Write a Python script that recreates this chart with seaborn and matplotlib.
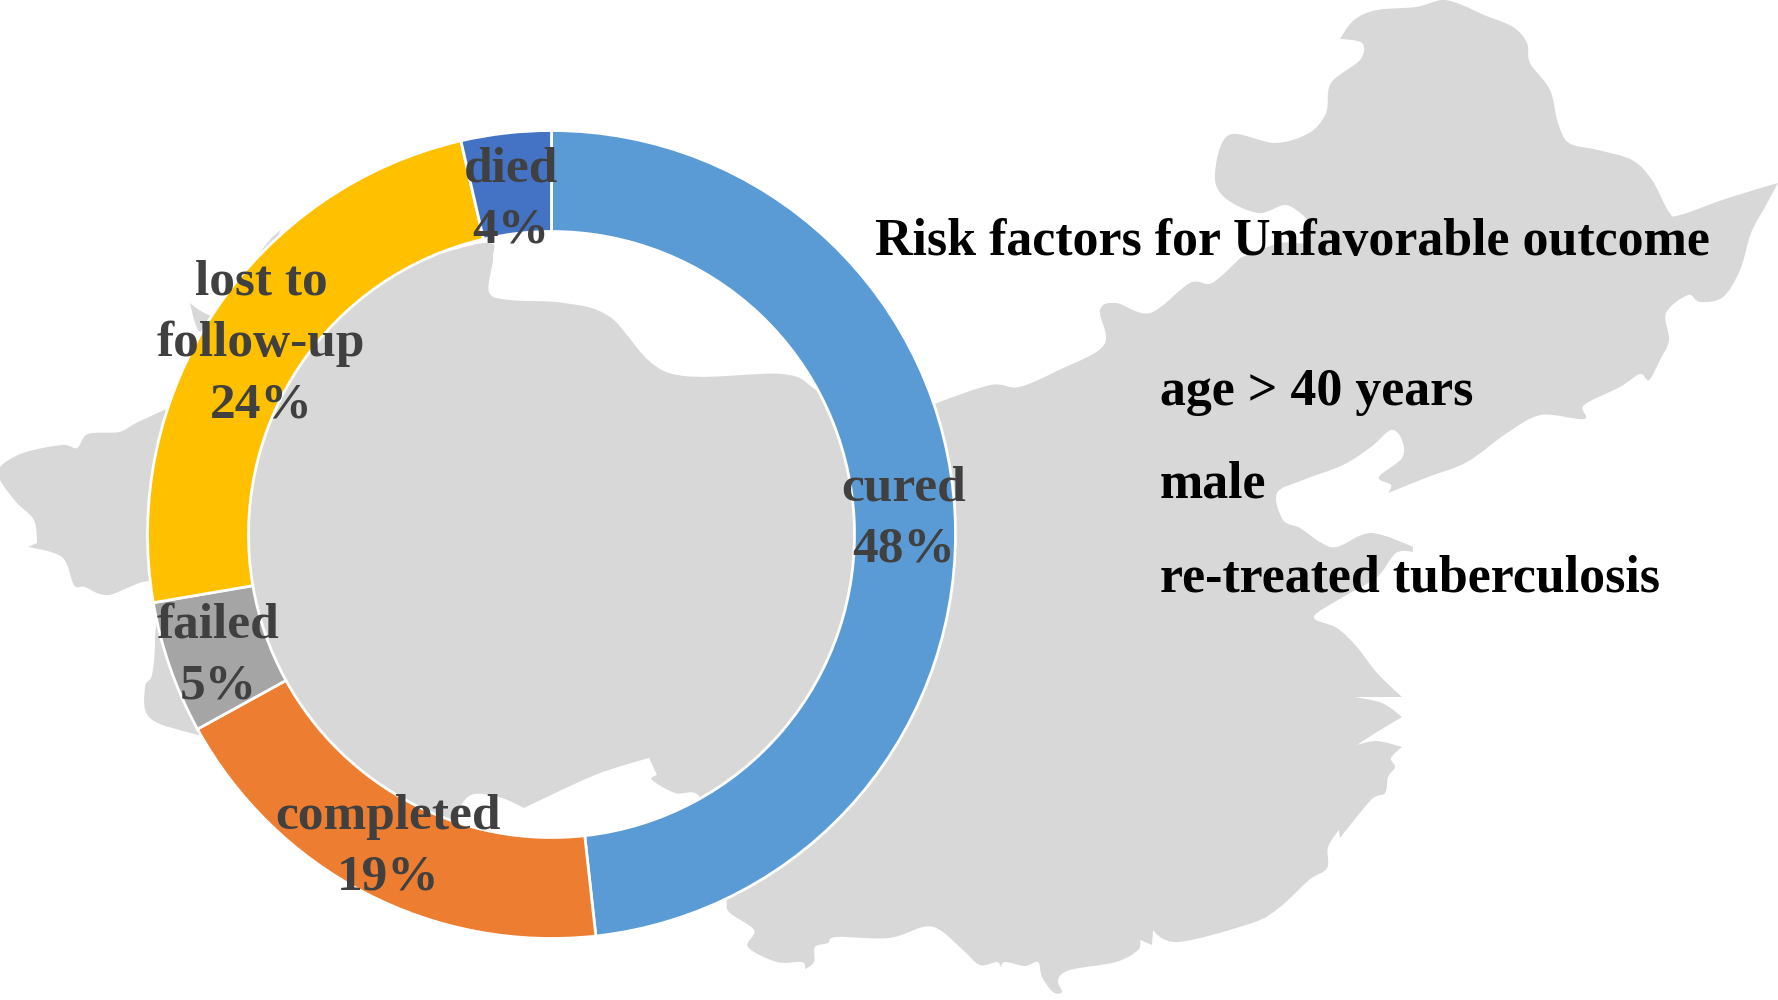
import numpy as np
import matplotlib
matplotlib.use("Agg")
import matplotlib.pyplot as plt
from matplotlib.path import Path
from matplotlib.patches import PathPatch
import seaborn as sns

OUTCOMES = ["cured", "completed", "failed", "lost to\nfollow-up", "died"]
SHARES = [48.25, 18.75, 5.3, 24.1, 3.6]
PCT_LABELS = ["48%", "19%", "5%", "24%", "4%"]
COLORS = ["#5B9BD5", "#ED7D31", "#A5A5A5", "#FFC000", "#4472C4"]
TITLE = "Risk factors for Unfavorable outcome"
FACTORS = ["age > 40 years", "male", "re-treated tuberculosis"]

# label centres in image pixels
LABEL_POS = [(904, 519), (388, 847), (218, 656), (261, 344), (511, 200)]
FACTOR_Y = [392, 485, 579]

# background map outline, in image pixels (y down)
MAP_OUTLINE = [
    (1340, 39), (1354, 20), (1377, 10), (1416, 7), (1442, 0), (1462, 5), (1484, 15), (1513, 27),
    (1527, 43), (1530, 63), (1550, 90), (1558, 123), (1569, 143), (1598, 150), (1632, 160),
    (1652, 180), (1669, 212), (1680, 215), (1728, 198), (1778, 183), (1765, 207), (1751, 233),
    (1740, 270), (1723, 297), (1700, 302), (1688, 295), (1666, 313), (1669, 340), (1660, 360),
    (1649, 380), (1640, 374), (1620, 387), (1584, 405), (1584, 419), (1541, 415), (1507, 433),
    (1467, 462), (1428, 477), (1388, 493), (1391, 485), (1379, 477), (1402, 458), (1402, 440),
    (1391, 430), (1371, 447), (1343, 465), (1303, 480), (1277, 493), (1283, 520), (1300, 528),
    (1320, 542), (1337, 547), (1371, 533), (1413, 547), (1413, 552), (1396, 553), (1377, 577),
    (1343, 597), (1314, 617), (1337, 628), (1357, 647), (1377, 673), (1402, 697), (1354, 697),
    (1382, 703), (1402, 717), (1377, 732), (1357, 745), (1377, 741), (1402, 747), (1391, 758),
    (1395, 767), (1388, 777), (1385, 793), (1371, 800), (1340, 838), (1339, 830), (1328, 847),
    (1327, 868), (1309, 880), (1280, 907), (1252, 923), (1178, 942), (1153, 930), (1152, 945),
    (1140, 940), (1138, 950), (1116, 962), (1070, 970), (1058, 980), (1062, 992), (1053, 992),
    (1042, 977), (1038, 962), (1025, 966), (1005, 962), (1001, 968), (997, 962), (980, 965),
    (963, 950), (940, 930), (923, 927), (889, 938), (836, 937), (828, 943), (815, 947),
    (814, 962), (805, 969), (802, 962), (777, 962), (748, 947), (754, 930), (729, 912),
    (726, 897), (715, 850), (700, 797), (675, 793), (652, 780), (657, 775), (649, 758),
    (595, 775), (524, 808), (499, 797), (471, 795), (455, 815), (448, 830), (400, 860), (300, 760),
    (198, 735), (150, 718), (145, 687), (152, 675), (155, 640), (153, 583), (108, 595), (85, 587),
    (74, 585), (62, 557), (28, 547), (37, 543), (34, 520), (17, 503), (0, 480), (0, 467), (23, 453),
    (62, 445), (77, 448), (88, 434), (119, 432), (136, 423), (164, 410), (205, 390), (215, 345),
    (198, 330), (190, 303), (225, 315), (262, 250), (281, 230), (290, 250), (400, 260), (485, 243),
    (493, 257), (489, 292), (510, 300), (564, 303), (610, 317), (669, 373), (782, 374), (816, 390),
    (870, 430), (937, 403), (991, 385), (1019, 387), (1059, 370), (1104, 345), (1100, 310),
    (1116, 303), (1150, 313), (1190, 283), (1212, 283), (1240, 258), (1280, 243), (1310, 242),
    (1306, 218), (1286, 205), (1258, 213), (1224, 197), (1215, 173), (1229, 135), (1275, 143),
    (1309, 133), (1326, 113), (1331, 83), (1360, 60), (1362, 43),
]
# outline vertices that stay pointed when the coast is rounded
MAP_TIPS = [
    (1340, 39), (1778, 183), (1388, 493), (1413, 547), (1413, 552), (1402, 697), (1354, 697),
    (1402, 717), (1357, 745), (1402, 747), (1340, 838), (1339, 830), (1153, 930), (1152, 945),
    (1140, 940), (1001, 968), (805, 969), (657, 775), (649, 758), (28, 547), (37, 543),
    (190, 303), (281, 230), (1306, 218), (1240, 258), (524, 808),
]


def smooth_outline(points, tips):
    # closed bezier through the traced points, corners left sharp at the tips
    pts = np.array(points, dtype=float)
    n = len(pts)
    tangents = (np.roll(pts, -1, axis=0) - np.roll(pts, 1, axis=0)) / 6
    for i, p in enumerate(points):
        if p in tips:
            tangents[i] = 0
    verts, codes = [pts[0]], [Path.MOVETO]
    for i in range(n):
        j = (i + 1) % n
        verts += [pts[i] + tangents[i], pts[j] - tangents[j], pts[j]]
        codes += [Path.CURVE4] * 3
    return Path(np.array(verts), codes)


W, H = 1778, 1000
sns.set_theme(style="white")
plt.rcParams["font.family"] = ["Liberation Serif", "DejaVu Serif"]

fig = plt.figure(figsize=(W / 100, H / 100), dpi=100, facecolor="white")
ax = fig.add_axes([0, 0, 1, 1])

flipped = [(x, H - y) for x, y in MAP_OUTLINE]
flipped_tips = [(x, H - y) for x, y in MAP_TIPS]
ax.add_patch(PathPatch(smooth_outline(flipped, flipped_tips), facecolor="#D8D8D8", lw=0, zorder=1))

wedges, _ = ax.pie(SHARES, colors=sns.color_palette(COLORS), startangle=90, counterclock=False,
                   center=(551.5, H - 534.5), radius=404,
                   wedgeprops={"width": 101, "edgecolor": "white", "linewidth": 2, "zorder": 2})

for name, pct, (x, y) in zip(OUTCOMES, PCT_LABELS, LABEL_POS):
    ax.text(x, H - y, f"{name}\n{pct}", ha="center", va="center", fontsize=37,
            fontweight="bold", color="#404040", linespacing=1.42, zorder=3)

ax.text(875, H - 242, TITLE, ha="left", va="center", fontsize=37.4, fontweight="bold",
        color="black", zorder=3)
for label, y in zip(FACTORS, FACTOR_Y):
    ax.text(1160, H - y, label, ha="left", va="center", fontsize=37.4, fontweight="bold",
            color="black", zorder=3)

ax.set_xlim(0, W)
ax.set_ylim(0, H)
ax.set_aspect("equal")
ax.axis("off")
fig.savefig("out.png", dpi=100)
